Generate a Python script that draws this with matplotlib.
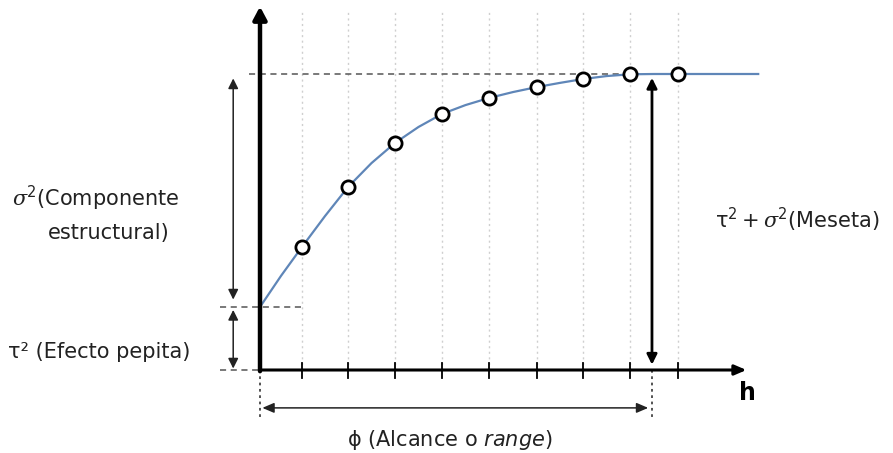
import matplotlib
matplotlib.use("Agg")
import matplotlib.pyplot as plt

plt.rcParams["mathtext.fontset"] = "custom"
plt.rcParams["mathtext.rm"] = "DejaVu Sans"
plt.rcParams["mathtext.it"] = "DejaVu Sans:italic"
plt.rcParams["mathtext.sf"] = "DejaVu Serif:italic"

# ---- data (lag units / semivariance units) ----
lags = [0.894, 1.872, 2.872, 3.872, 4.872, 5.894, 6.872, 7.872, 8.894]
gamma_pts = [0.416, 0.618, 0.767, 0.865, 0.919, 0.956, 0.983, 1.0, 1.0]
curve_h = [0, 0.447, 0.894, 1.383, 1.872, 2.372, 2.872, 3.372, 3.872, 4.372, 4.872,
           5.383, 5.894, 6.383, 6.872, 7.372, 7.872, 8.383, 8.894, 10.6]
curve_g = [0.213, 0.318, 0.416, 0.520, 0.618, 0.699, 0.767, 0.821, 0.865, 0.895, 0.919,
           0.939, 0.956, 0.970, 0.983, 0.993, 0.999, 1.0, 1.0, 1.0]
nugget = 0.213
sill = 1.0
range_h = 8.34
tick_pos = lags

fig = plt.figure(figsize=(8.93, 4.53), dpi=100)
ax = fig.add_axes([0, 0, 1, 1])
ax.set_xlim(-260 / 47, (893 - 260) / 47)
ax.set_ylim((370 - 453) / 296, 370 / 296)
ax.axis("off")

# dotted vertical guide lines
for t in tick_pos:
    ax.plot([t, t], [0, 1.215], color="#cfcfcf", lw=1.0, ls=(0, (1.5, 2.5)), zorder=1)

# axes with arrows
ax.annotate("", xy=(0, 1.228), xytext=(0, -0.004),
            arrowprops=dict(arrowstyle="-|>,head_width=0.4,head_length=0.75", lw=3.2, color="black",
                            shrinkA=0, shrinkB=0), zorder=5)
ax.annotate("", xy=(10.35, 0), xytext=(0, 0),
            arrowprops=dict(arrowstyle="-|>,head_width=0.3,head_length=0.7", lw=2.2, color="black",
                            shrinkA=0, shrinkB=0), zorder=5)
for t in tick_pos:
    ax.plot([t, t], [-0.028, 0.025], color="black", lw=1.3, zorder=5)
ax.text(10.2, -0.078, "h", fontsize=17, fontweight="bold", ha="left", va="center")

# dashed reference lines
ax.plot([-0.23, 8.2], [sill, sill], color="#555555", lw=1.1, ls=(0, (4, 3)), zorder=2)
ax.plot([-0.85, 0.9], [nugget, nugget], color="#555555", lw=1.1, ls=(0, (4, 3)), zorder=2)
ax.plot([-0.85, 0], [0, 0], color="#555555", lw=1.1, ls=(0, (4, 3)), zorder=2)
ax.plot([0, 0], [0, -0.17], color="#444444", lw=1.3, ls=(0, (1.5, 2)), zorder=2)
ax.plot([range_h, range_h], [0, -0.17], color="#444444", lw=1.3, ls=(0, (1.5, 2)), zorder=2)

# curve and points
ax.plot(curve_h, curve_g, color="#5f86b8", lw=1.6, zorder=3)
ax.plot(lags, gamma_pts, ls="none", marker="o", ms=9.5, mfc="white", mec="black", mew=2.0, zorder=6)

# annotation arrows
ax.annotate("", xy=(-0.57, nugget + 0.025), xytext=(-0.57, sill - 0.015),
            arrowprops=dict(arrowstyle="<|-|>,head_width=0.3,head_length=0.6", lw=1.1, color="#222222",
                            shrinkA=0, shrinkB=0))
ax.annotate("", xy=(-0.57, 0.005), xytext=(-0.57, nugget - 0.01),
            arrowprops=dict(arrowstyle="<|-|>,head_width=0.3,head_length=0.6", lw=1.1, color="#222222",
                            shrinkA=0, shrinkB=0))
ax.annotate("", xy=(range_h, 0.018), xytext=(range_h, sill - 0.013),
            arrowprops=dict(arrowstyle="<|-|>,head_width=0.3,head_length=0.6", lw=2.0, color="black",
                            shrinkA=0, shrinkB=0), zorder=6)
ax.annotate("", xy=(0.05, -0.128), xytext=(range_h - 0.08, -0.128),
            arrowprops=dict(arrowstyle="<|-|>,head_width=0.3,head_length=0.7", lw=1.1, color="#222222",
                            shrinkA=0, shrinkB=0))

# labels
fs = 15
tc = "#222222"
ax.text(-5.28, 0.581, r"$\mathsf{σ}^{2}$(Componente", fontsize=fs, ha="left", va="center", color=tc)
ax.text(-3.21, 0.463, "estructural)", fontsize=fs, ha="center", va="center", color=tc)
ax.text(-5.36, 0.061, "τ² (Efecto pepita)", fontsize=fs, ha="left", va="center", color=tc)
ax.text(9.68, 0.507, r"$\mathrm{τ}^{2} + \mathsf{σ}^{2}$(Meseta)", fontsize=fs, ha="left", va="center",
        color=tc)
ax.text(1.85, -0.236, r"ϕ (Alcance o $\mathit{range}$)", fontsize=fs, ha="left", va="center", color=tc)

fig.savefig("out.png", dpi=100)
